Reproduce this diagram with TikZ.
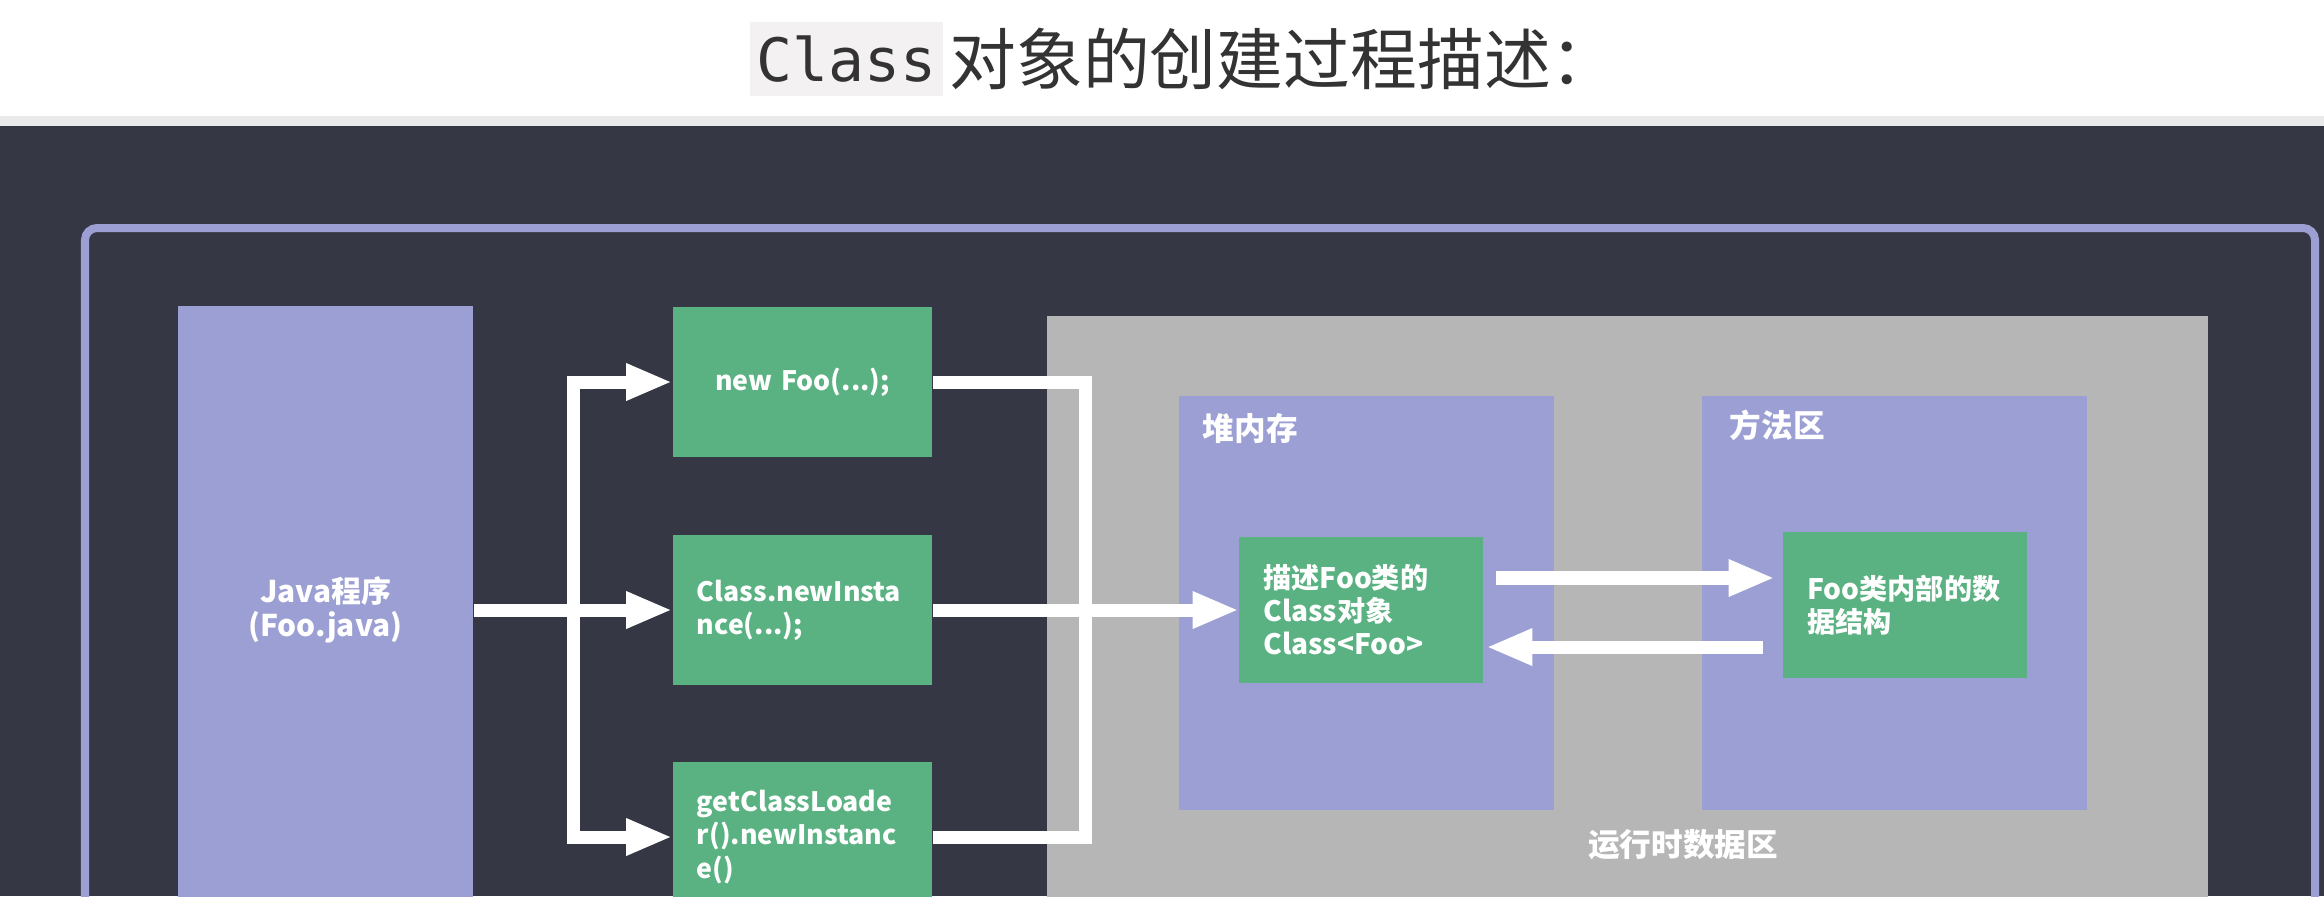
\documentclass[tikz,border=0pt]{standalone}
\usepackage{fontspec}
\newfontfamily\cjk{Noto Sans CJK SC}
\newfontfamily\codefont{DejaVu Sans Mono}
\usetikzlibrary{arrows.meta,positioning}
\definecolor{fundo}{HTML}{353744}
\definecolor{lavanda}{HTML}{9B9FD3}
\definecolor{verde}{HTML}{5AB181}
\definecolor{cinza}{HTML}{B6B6B6}
\definecolor{tinta}{HTML}{333333}
\definecolor{codigofundo}{HTML}{F3F1F1}
\definecolor{separador}{HTML}{E9E9E9}
\tikzset{
  every node/.style={font=\cjk\bfseries\fontsize{8.5}{9.6}\selectfont},
  codigo/.style={
    fill=codigofundo,
    text=tinta,
    font=\codefont\fontsize{17}{20}\selectfont,
    minimum width=1.93cm,
    minimum height=0.74cm,
    inner sep=0pt
  },
  titulo/.style={text=tinta,font=\cjk\fontsize{19}{22}\selectfont,inner sep=0pt},
  programa/.style={
    fill=lavanda,
    text=white,
    minimum width=2.95cm,
    minimum height=6.08cm,
    align=center,
    inner sep=0pt
  },
  chamada/.style={
    fill=verde,
    text=white,
    font=\cjk\bfseries\fontsize{7.6}{9.4}\selectfont,
    minimum width=2.59cm,
    minimum height=1.50cm,
    text width=2.11cm,
    align=left,
    inner sep=0pt
  },
  memoria/.style={fill=lavanda,minimum height=4.14cm,inner sep=0pt},
  conteudo/.style={
    fill=verde,
    text=white,
    font=\cjk\bfseries\fontsize{8}{9.4}\selectfont,
    minimum width=2.43cm,
    minimum height=1.46cm,
    text width=1.95cm,
    align=left,
    inner sep=0pt
  },
  rotulo/.style={text=white,font=\cjk\bfseries\fontsize{9}{10}\selectfont,inner sep=0pt},
  fluxo/.style={draw=white,line width=0.13cm,-{Triangle[length=0.46cm,width=0.34cm]}},
  ligacao/.style={draw=white,line width=0.13cm}
}

\begin{document}
\begin{tikzpicture}[x=0.01cm,y=-0.01cm]
  \useasboundingbox (0,0) rectangle (2324,896);
  \clip (0,0) rectangle (2324,896);

  % Cabeçalho da página: título e faixa de separação.
  \fill[white] (0,0) rectangle (2324,116);
  \fill[separador] (0,116) rectangle (2324,126);
  \fill[fundo] (0,126) rectangle (2324,896);
  \node[codigo] (class-titulo) at (846.5,59) {Class};
  \node[titulo,right=0.05cm of class-titulo] (titulo) {对象的创建过程描述：};

  % Moldura externa do diagrama.
  \draw[lavanda,line width=0.08cm,rounded corners=0.12cm] (85,228) rectangle (2315,1000);

  % Programa Java e as três formas de criar o objeto.
  \node[programa] (java) at (325.5,610) {Java程序\\(Foo.java)};
  \node[chamada,align=center] (novo) at (802.5,382) {new Foo(...);};
  \node[chamada] (newinst) at (802.5,610) {Class.newInsta\\nce(...);};
  \node[chamada] (loader) at (802.5,837) {getClassLoade\\r().newInstanc\\e()};

  % Área de dados em tempo de execução: heap e área de métodos.
  \fill[cinza] (1047,316) rectangle (2208,1000);
  \node[memoria,minimum width=3.75cm] (heap) at (1366.5,603) {};
  \node[memoria,minimum width=3.85cm] (metodo) at (1894.5,603) {};
  \node[rotulo,anchor=north west] (heap-rotulo)
    at ([xshift=0.24cm,yshift=-0.18cm]heap.north west) {堆内存};
  \node[rotulo,anchor=north west] (metodo-rotulo)
    at ([xshift=0.28cm,yshift=-0.14cm]metodo.north west) {方法区};
  \node[conteudo] (classe) at (1361,610) {描述Foo类的\\Class对象\\Class<Foo>};
  \node[conteudo] (estrutura) at (1905,605) {Foo类内部的数\\据结构};
  \node[rotulo] (runtime) at (1683,845) {运行时数据区};

  % Pontos de desvio das setas.
  \coordinate (tronco) at (573,610);
  \coordinate (retorno) at (1085,610);

  % Setas do programa até as chamadas.
  \draw[fluxo] (java) -- (newinst);
  \foreach \alvo in {novo,loader}
    \draw[fluxo] (tronco) |- (\alvo);

  % Saídas das chamadas até o objeto Class.
  \draw[ligacao] (novo) -| (retorno) |- (loader);
  \draw[fluxo] (newinst) -- (classe);

  % Ida e volta entre o objeto Class e a área de métodos.
  \draw[fluxo,shorten <=0.13cm,shorten >=0.08cm]
    ([yshift=0.32cm]classe.east) -- ([yshift=0.32cm]classe.east -| estrutura.west);
  \draw[fluxo,shorten <=0.2cm,shorten >=0.03cm]
    ([yshift=-0.37cm]classe.east -| estrutura.west) -- ([yshift=-0.37cm]classe.east);
\end{tikzpicture}
\end{document}
